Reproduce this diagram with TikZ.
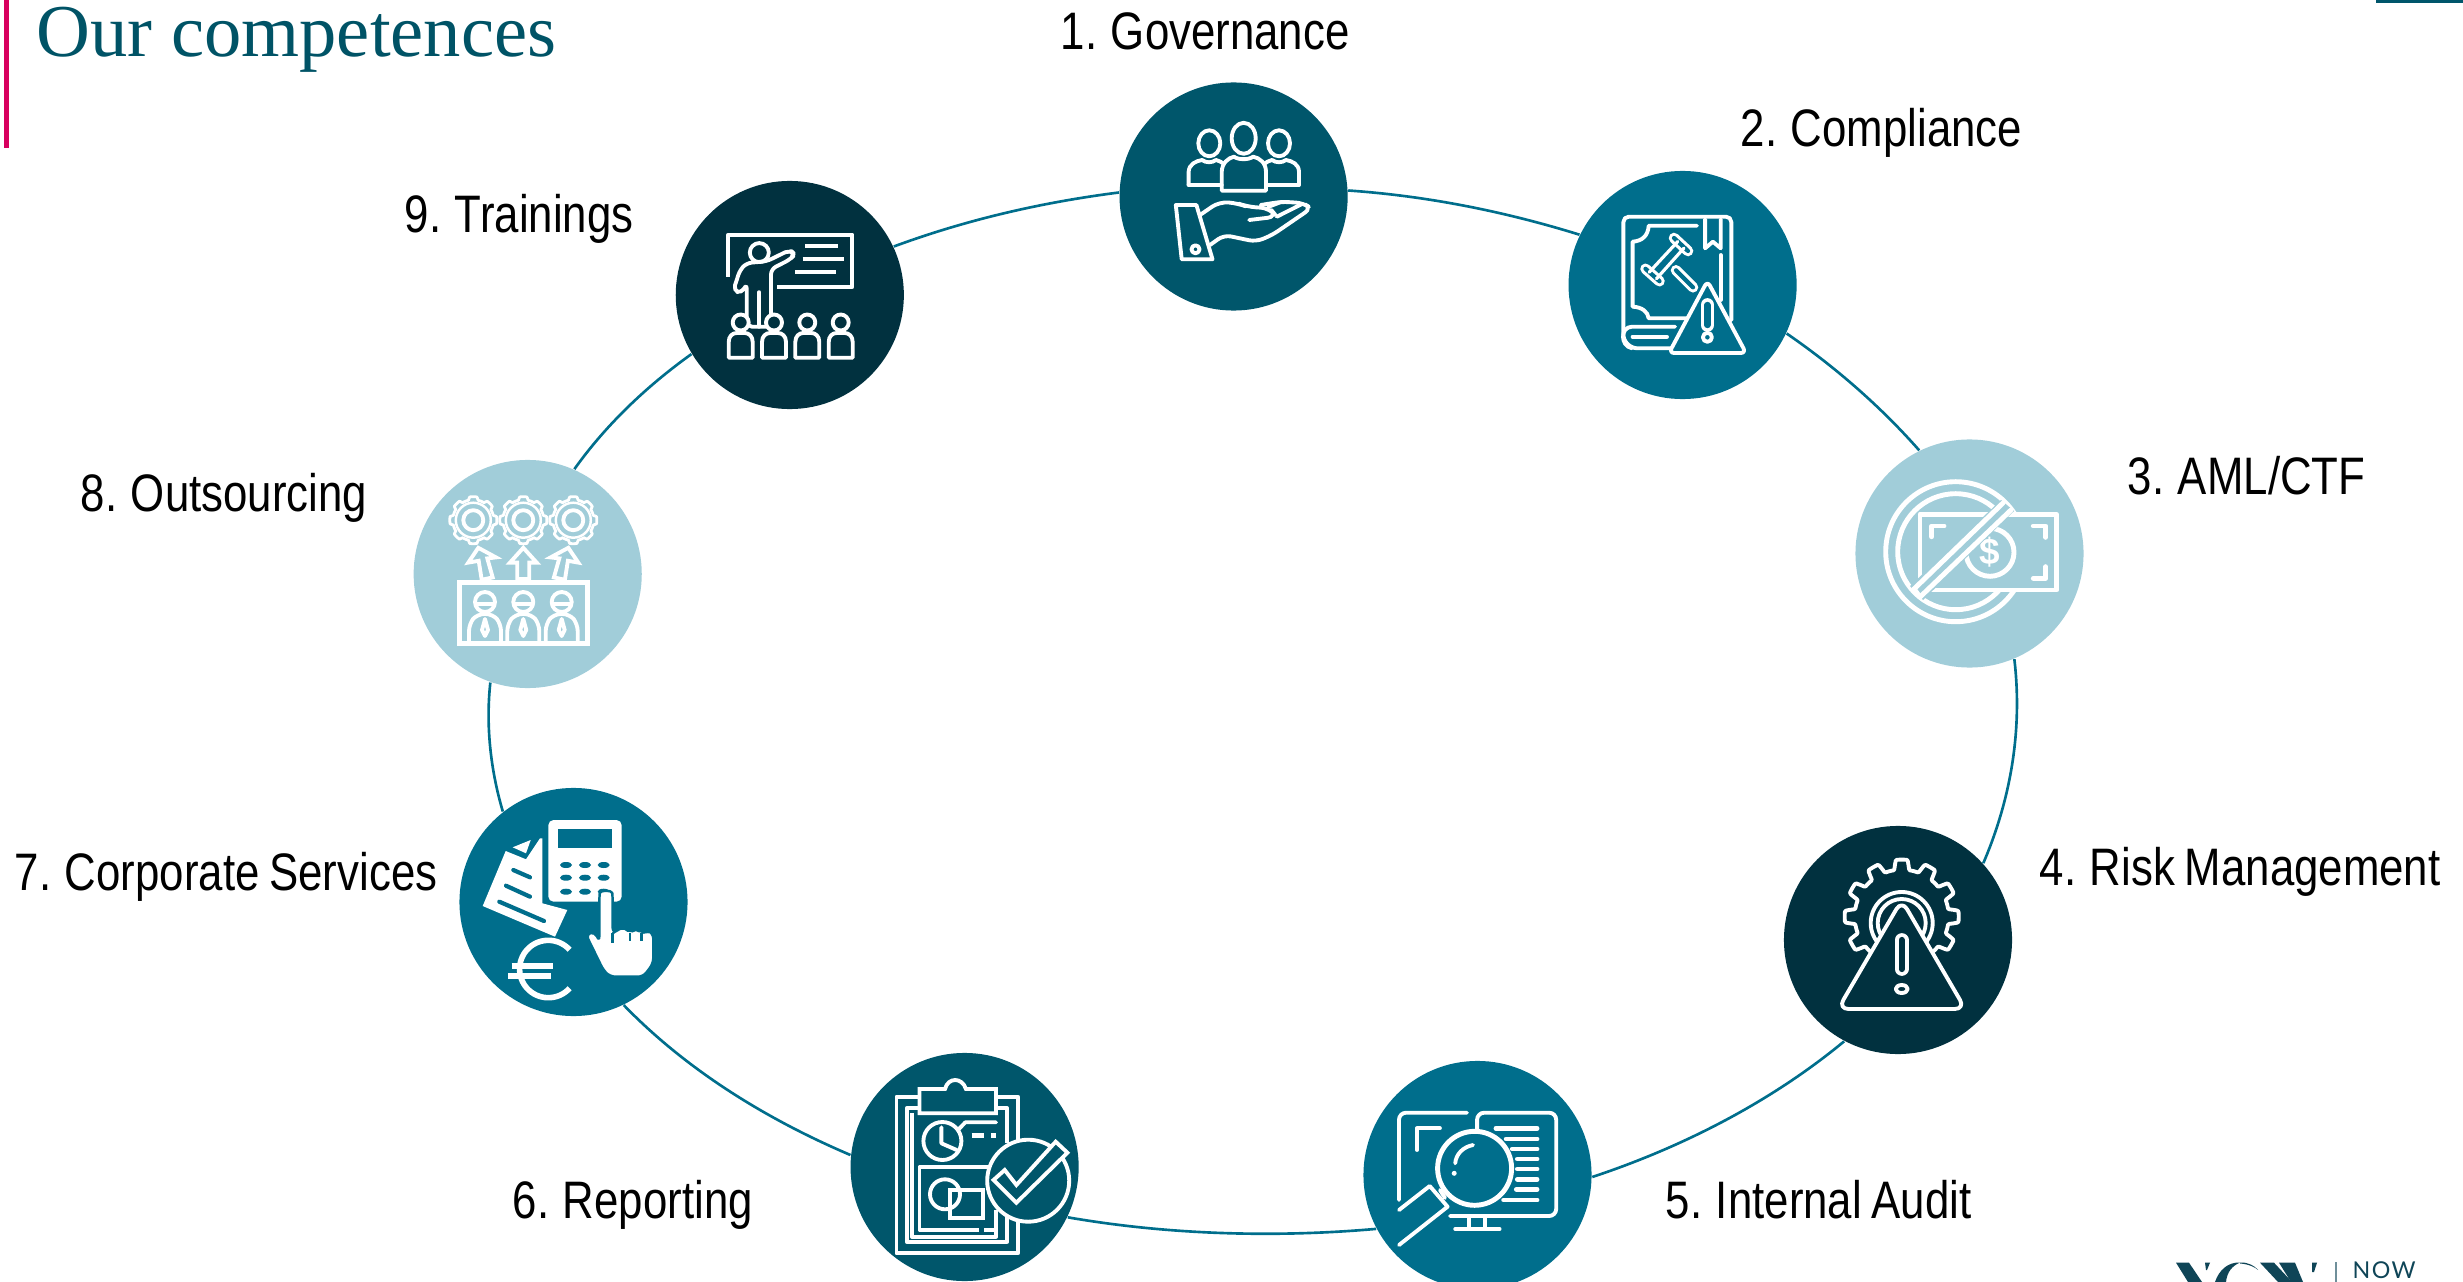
\documentclass[tikz,border=0pt]{standalone}
\usepackage{fontspec}
\setmainfont{Liberation Sans}
\newfontfamily\labfont[FakeStretch=0.83,WordSpace=0.8]{Liberation Sans}
\newfontfamily\titlefont{Liberation Serif}
\newfontfamily\logofont[LetterSpace=6]{Lato}
\definecolor{cA}{HTML}{00566B}
\definecolor{cB}{HTML}{006E8C}
\definecolor{cC}{HTML}{A1CDD9}
\definecolor{cD}{HTML}{01313F}
\definecolor{cTitle}{HTML}{005366}
\definecolor{cPink}{HTML}{D8005F}
\definecolor{cLogo}{HTML}{0F4557}
\newcommand{\gearicon}[6]{%
  \draw[icon,fill=#6] plot[domain=0:360,samples=289,variable=\t]
   ({#1+((#3+#4)/2+(#4-#3)/2*max(-1,min(1,3*cos(#5*\t))))*cos(\t)},
    {#2+((#3+#4)/2+(#4-#3)/2*max(-1,min(1,3*cos(#5*\t))))*sin(\t)}) -- cycle;}
\tikzset{
  disc/.style={circle,fill=#1,draw=none,inner sep=0pt,minimum size=2.28cm},
  ring/.style={draw=cB,line width=0.75pt},
  lab/.style={anchor=base west,inner sep=0pt,text=black,font=\labfont\fontsize{15pt}{18pt}\selectfont},
  icon/.style={draw=white,line width=1.1pt,line join=round,line cap=round},
  thick icon/.style={icon,line width=1.4pt},
  capsule/.style={draw=white,line width=1.05pt,double=#1,double distance=1.8pt,line cap=round},
  slimcapsule/.style={draw=white,line width=0.9pt,double=#1,double distance=1.2pt,line cap=round},
  wfill/.style={fill=white,draw=none}
}
\begin{document}
\begin{tikzpicture}[x=0.01cm,y=-0.01cm]
\useasboundingbox (0,0) rectangle (2463,1282);
% frame decorations
\fill[cPink] (4,0) rectangle (9,148);
\fill[cA] (2376,0) rectangle (2463,3);
\node[anchor=base west,inner sep=0pt,text=cTitle,font=\titlefont\fontsize{21.2pt}{24pt}\selectfont] (title) at (36,57) {Our competences};
% discs
\node[disc=cA] (n1) at (1233.6,196.5) {};
\node[disc=cB] (n2) at (1682.6,285) {};
\node[disc=cC] (n3) at (1969.5,553.5) {};
\node[disc=cD] (n4) at (1898,940) {};
\node[disc=cB] (n5) at (1477.5,1175) {};
\node[disc=cA] (n6) at (964.6,1167) {};
\node[disc=cB] (n7) at (573.5,902) {};
\node[disc=cC] (n8) at (527.7,574) {};
\node[disc=cD] (n9) at (789.8,295) {};
% ring
\draw[ring] (n1.3.75) .. controls (1428.4,196) and (1506.8,212.1) .. (n2.154.5);
\draw[ring] (n2.-25.4) .. controls (1838.4,369.1) and (1883.3,409.5) .. (n3.116.8);
\draw[ring] (n3.-67.6) .. controls (2022.3,726.8) and (2012.1,795.9) .. (n4.42.6);
\draw[ring] (n4.-118) .. controls (1776.1,1097.6) and (1689.9,1144.6) .. (n5.-1.5);
\draw[ring] (n5.-152.8) .. controls (1274.9,1237.8) and (1168.5,1234.8) .. (n6.-26.3);
\draw[ring] (n6.174) .. controls (760.2,1116.6) and (682.9,1066.2) .. (n7.-64.7);
\draw[ring] (n7.128.3) .. controls (490.4,769.5) and (485.7,725.1) .. (n8.-109.8);
\draw[ring] (n8.66.8) .. controls (604.4,426.9) and (644.5,387.7) .. (n9.-149.5);
\draw[ring] (n9.25.2) .. controls (964.5,220.4) and (1039.6,202.6) .. (n1.178.2);
% labels
\node[lab] (l1) at (1060,50) {1. Governance};
\node[lab] (l2) at (1740,147) {2. Compliance};
\node[lab] (l3) at (2127,494) {3. AML/CTF};
\node[lab] (l4) at (2039,885) {4. Risk Management};
\node[lab] (l5) at (1665,1218) {5. Internal Audit};
\node[lab] (l6) at (512,1218) {6. Reporting};
\node[lab] (l7) at (14,890) {7. Corporate Services};
\node[lab] (l8) at (80,511) {8. Outsourcing};
\node[lab] (l9) at (404,233) {9. Trainings};

% ---- icon 1: governance
\draw[icon] (1209.3,143.3) ellipse[x radius=11,y radius=13];
\draw[icon] (1279,143.3) ellipse[x radius=11,y radius=13];
\draw[icon] (1188.6,185) -- (1188.6,172) .. controls (1189,164) and (1196,161) .. (1202,160) .. controls (1206,163) and (1212,163) .. (1216,160) .. controls (1219,161) and (1222,162) .. (1224,164);
\draw[icon] (1299,185) -- (1299,172) .. controls (1299,164) and (1292,161) .. (1286,160) .. controls (1282,163) and (1276,163) .. (1272,160) .. controls (1269,161) and (1266,162) .. (1264,164);
\draw[icon] (1188.6,185) -- (1221.7,185) (1266,185) -- (1299,185);
\draw[icon] (1243.7,138.3) ellipse[x radius=12,y radius=15.5];
\draw[icon] (1221.7,190.7) -- (1221.7,172) .. controls (1222,163) and (1228,158) .. (1234,156.7) .. controls (1238,160) and (1249,160) .. (1253,156.7) .. controls (1260,158) and (1266,163) .. (1266,172) -- (1266,190.7) -- cycle;
\draw[icon] (1175.8,205) -- (1196.4,205) -- (1212.5,259.3) -- (1181.7,259.3) -- cycle;
\draw[icon] (1195.5,249.3) circle[radius=4];
\draw[icon,rounded corners=2.5pt] (1200,215) -- (1219.4,201.7) -- (1237.7,203.3) -- (1246.9,206.7) -- (1269.9,208.3) -- (1276.8,216.7) -- (1249.2,220);
\draw[icon,rounded corners=2pt] (1260.7,205) -- (1281.4,201.7) -- (1303,203) -- (1311.2,208.3) -- (1272.2,235) -- (1256,241.7) -- (1224,235) -- (1210,245);
\draw[icon] (1276.8,216.7) -- (1302,204) (1268,207) -- (1281,202);
% ---- icon 2: compliance
\draw[icon,rounded corners=1.5pt] (1675,348.3) -- (1632,348.3) -- (1623.4,340) -- (1623.4,216.7) -- (1731.3,216.7) -- (1731.3,320);
\draw[icon] (1696.9,225.7) -- (1648.7,225.7) .. controls (1648,236) and (1642,241) .. (1632.6,241.7) -- (1632.6,306.7) .. controls (1642,307) and (1648,312) .. (1648.7,318.3) -- (1687.7,318.3);
\draw[icon] (1720.7,255) -- (1720.7,300);
\draw[icon] (1705.1,219.3) -- (1705.1,248.3) -- (1712.9,241.7) -- (1720.7,248.3) -- (1720.7,219.3);
\draw[icon] (1675,326.7) -- (1632,326.7) .. controls (1620,327) and (1620,346) .. (1632,348.3);
\draw[icon] (1632.6,336.7) -- (1667,336.7);
\draw[slimcapsule=cB] (1674,238) -- (1688,251);
\draw[slimcapsule=cB] (1645.5,268.8) -- (1659.5,281.2);
\draw[icon,line width=0.9pt] (1683.9,248.1) -- (1656.4,278.8) (1677.7,241.5) -- (1649.2,272.2);
\draw[slimcapsule=cB] (1676,270.3) -- (1693,287.3);
\draw[icon,fill=cB,rounded corners=1.5pt] (1707.4,281) -- (1669,353) -- (1746,353) -- cycle;
\draw[capsule=cB] (1707.4,305) -- (1707.4,325);
\draw[icon] (1707.4,337.3) circle[radius=4.5];
% ---- icon 3: AML
\draw[thick icon] (1955.7,551.7) circle[radius=70];
\draw[thick icon] (1955.7,551.7) circle[radius=58];
\draw[thick icon,fill=cC] (1920,514.3) rectangle (2056.7,590);
\draw[thick icon,fill=cC] (1990,552.3) circle[radius=24];
\node[text=white,inner sep=0pt,font=\bfseries\fontsize{10.5pt}{12pt}\selectfont] (dollar) at (1990,552.3) {\$};
\draw[thick icon] (1931.7,536.7) -- (1931.7,526) -- (1944,526);
\draw[thick icon] (2033.3,526) -- (2045.7,526) -- (2045.7,537.3);
\draw[thick icon] (2033.3,578.3) -- (2045.7,578.3) -- (2045.7,566.7);
\fill[cC] (1910,586) -- (2001,500) -- (2014,511) -- (1923,600) -- cycle;
\draw[thick icon] (1914,589) -- (2003,503) (1920,597) -- (2011,510);
\draw[thick icon] (1914,589) -- (1920,597);
% ---- icon 4: risk
\gearicon{1901.7}{916.6}{47}{57}{12}{cD}
\draw[icon] (1901.7,923) circle[radius=31];
\draw[icon] (1901.7,923) circle[radius=24];
\draw[icon,fill=cD,rounded corners=3pt] (1901.7,900) -- (1838,1009) -- (1965.3,1009) -- cycle;
\draw[capsule=cD] (1901.7,940) -- (1901.7,969);
\draw[icon] (1901.7,989) ellipse[x radius=6,y radius=4];
% ---- icon 5: audit
\draw[icon,rounded corners=2pt] (1399,1200) -- (1399,1112.7) -- (1467,1112.7);
\draw[icon,rounded corners=2pt] (1477.1,1130) -- (1477.1,1112.7) -- (1556.2,1112.7) -- (1556.2,1216) -- (1450,1216);
\draw[icon] (1469,1216.7) -- (1469,1228.3) (1484.8,1216.7) -- (1484.8,1228.3) (1455.2,1229) -- (1499.6,1229);
\draw[icon] (1417,1150) -- (1417,1128.3) -- (1439.9,1128.3);
\draw[thick icon] (1496,1128.3) -- (1537,1128.3);
\draw[thick icon] (1506.2,1139) -- (1537,1139);
\draw[thick icon] (1512.3,1149) -- (1537,1149);
\draw[thick icon] (1517.4,1159) -- (1537,1159);
\draw[thick icon] (1517.4,1169) -- (1537,1169);
\draw[thick icon] (1517.4,1179.3) -- (1537,1179.3);
\draw[thick icon] (1516.4,1189.3) -- (1537,1189.3);
\draw[thick icon] (1503.7,1200) -- (1537,1200);
\draw[thick icon] (1474.6,1168.3) circle[radius=37];
\draw[icon] (1473,1145) .. controls (1463,1147) and (1456,1154) .. (1455.2,1163.3);
\fill[white] (1454.2,1173.3) circle[radius=2.5];
\draw[icon] (1399,1210) -- (1429.7,1186) -- (1447.6,1206.7) -- (1399,1245);
\draw[icon] (1440,1190) -- (1445,1198);
% ---- icon 6: reporting
\draw[icon,line cap=butt] (1018,1143) -- (1018,1096.7) -- (896.5,1096.7) -- (896.5,1253.3) -- (1018,1253.3) -- (1018,1220);
\draw[icon,line cap=butt] (1007.2,1143) -- (1007.2,1108.3) -- (906.7,1108.3) -- (906.7,1241.7) -- (1007.2,1241.7) -- (1007.2,1215);
\draw[icon,line cap=butt] (911.8,1113.3) -- (911.8,1236.7) -- (996,1236.7) -- (996,1210);
\draw[icon,fill=cA,line join=miter] (919.5,1113.3) -- (919.5,1089) -- (945,1089) .. controls (948,1077) and (962,1077) .. (966,1089) -- (996,1089) -- (996,1113.3) -- cycle;
\draw[icon] (942.4,1141) circle[radius=19];
\draw[icon] (941.4,1127.3) -- (941.4,1143.3) -- (956.7,1150);
\draw[icon] (957.8,1130) -- (965.4,1122.3) -- (996,1122.3);
\draw[thick icon,line cap=butt] (971.5,1135.7) -- (984.3,1135.7) (990.9,1135.7) -- (996,1135.7);
\draw[icon,line cap=butt] (988.4,1167.3) -- (919.5,1167.3) -- (919.5,1230) -- (979.2,1230);
\draw[icon,line cap=butt] (984,1230) -- (996,1230);
\draw[icon] (945,1194.3) circle[radius=15];
\draw[icon,line join=miter] (950,1190) rectangle (983.3,1218.3);
\draw[icon,fill=cA] (1028.2,1180.7) circle[radius=41];
\draw[icon,fill=cA,line join=miter] (993.5,1180) -- (1004.7,1170) -- (1016.4,1185) -- (1055.7,1141.7) -- (1067.4,1152.7) -- (1016.4,1202.7) -- cycle;
% ---- icon 7: corporate
\fill[white,rounded corners=1.5pt] (548.3,820) rectangle (621.7,901.7);
\fill[cB] (558.3,829) rectangle (612,847.7);
\foreach \bx in {566,585,603.7}{\foreach \by in {865,877.7,891.7}{\fill[cB] (\bx,\by) ellipse[x radius=6,y radius=3];}}
\fill[white] (482.7,906) -- (505.7,851) -- (526,859.3) -- (540,838.3) -- (542.3,838.3) -- (542.3,903.3) -- (567.3,910) -- (555,936.7) -- cycle;
\fill[white] (512.7,847.3) -- (530.7,840) -- (526,853.3) -- cycle;
\draw[draw=cB,line width=1.2pt,line cap=round] (513.3,870) -- (530,877.3) (506,885.7) -- (530,896.7) (499.3,901.7) -- (544,921);
\draw[cB,line width=0.7pt,fill=white,line join=round,rounded corners=1.5pt] (585.7,934) -- (595,931.7) -- (599.3,941.7) -- (599.3,898.3) .. controls (600,890) and (612,890) .. (612.7,898.3) -- (612.7,933.3) -- (617.3,930) -- (625,926.7) -- (630,933.3) -- (635.7,927.7) -- (641.7,933.3) -- (648.3,930.7) -- (653.3,933.3) -- (653.3,963.3) -- (643.3,976.7) -- (610,976.7) -- (603.3,970) -- cycle;
\draw[cB,line width=0.8pt] (612.7,933) -- (612.7,943) (630,933) -- (630,941) (641.7,933) -- (641.7,941);
\draw[icon,line cap=butt,line width=1.6pt] plot[domain=42:318,samples=50,variable=\t] ({548.3+28.7*cos(\t)},{969+28.7*sin(\t)});
\draw[icon,line cap=butt,line width=1.6pt] (511.7,966) -- (553.3,966) (508.3,976) -- (550.7,976);
% ---- icon 8: outsourcing
\begin{scope}[icon/.append style={line width=0.8pt}]
\foreach \gx in {473.3,523.3,573.3}{
  \gearicon{\gx}{520.2}{20.5}{23.5}{8}{cC}
  \draw[icon,line width=0.7pt] (\gx,520.2) circle[radius=17.5];
  \draw[icon,line width=1.1pt] (\gx,520.2) circle[radius=10];
}
\end{scope}
\draw[icon,line join=miter] (523.3,547.8) -- (536.7,562.6) -- (529.3,562.6) -- (529.3,579) -- (517.3,579) -- (517.3,562.6) -- (510,562.6) -- cycle;
\draw[icon,line join=miter] (478.3,547.8) -- (496,557.4) -- (487.3,558.4) -- (492.7,577.4) -- (481.7,579.8) -- (478.7,560.8) -- (468.3,562.6) -- cycle;
\draw[icon,line join=miter] (568.3,547.8) -- (550.6,557.4) -- (559.3,558.4) -- (553.9,577.4) -- (564.9,579.8) -- (567.9,560.8) -- (578.3,562.6) -- cycle;
\draw[thick icon,line join=miter] (459.3,582.5) rectangle (587.7,643.5);
\foreach \px in {485,523.3,561.7}{
  \draw[icon] (\px,602) circle[radius=10];
  \draw[icon] (\px-9,604) -- (\px+9,604);
  \draw[icon,rounded corners=2pt] (\px-16,643) -- (\px-16,624) -- (\px-8,614) -- (\px+8,614) -- (\px+16,624) -- (\px+16,643);
  \draw[icon] (\px,619) -- (\px-3,630) -- (\px,636) -- (\px+3,630) -- cycle;
}
% ---- icon 9: trainings
\draw[icon,line cap=butt] (728.3,276.7) -- (728.3,234.7) -- (852.3,234.7) -- (852.3,287.1) -- (776.7,287.1);
\draw[icon,line cap=butt] (805,246.4) -- (838.3,246.4) (802.7,258.8) -- (844.3,258.8) (795,271.6) -- (836,271.6);
\draw[icon] (759.3,252.6) circle[radius=9.5];
\draw[icon,rounded corners=1.5pt] (741.7,293.3) -- (733.3,290.5) -- (740,269.9) -- (746.7,263) -- (766.7,261.3) -- (790,249.9) -- (795,254.4) -- (790,259.5) -- (771,269.2) -- (771,326.7) -- (746.7,326.7) -- (746.7,283.6) -- cycle;
\draw[icon] (759.3,292.2) -- (759.3,326.7);
\foreach \sx in {740.7,774,807.3,840.7}{
  \draw[icon,fill=cD] (\sx,322.5) circle[radius=8];
  \draw[icon,line cap=butt,fill=cD] (\sx-12,357.7) -- (\sx-12,342) .. controls (\sx-12,336) and (\sx-8,333) .. (\sx-4,333) -- (\sx+4,333) .. controls (\sx+8,333) and (\sx+12,336) .. (\sx+12,342) -- (\sx+12,357.7) -- cycle;
}
% ---- logo
\fill[cLogo] (2176,1262.7) -- (2189,1262.7) -- (2202,1282) -- (2188,1282) -- cycle;
\fill[cLogo] (2205,1262.7) -- (2210,1262.7) -- (2207,1270) -- (2206,1270) -- cycle;
\fill[cLogo] (2215,1282) .. controls (2219,1270) and (2228,1262) .. (2240,1262.5) .. controls (2232,1266) and (2227,1272) .. (2226,1282) -- cycle;
\fill[cLogo] (2240,1262.5) .. controls (2248,1262) and (2255,1266) .. (2258,1270) .. controls (2255,1267) and (2248,1264) .. (2240,1263.5) -- cycle;
\fill[cLogo] (2260,1262.7) -- (2274,1262.7) -- (2292,1282) -- (2278,1282) -- cycle;
\fill[cLogo] (2279,1262.7) -- (2295,1262.7) -- (2303,1282) -- (2291,1282) -- cycle;
\fill[cLogo] (2312,1262.7) -- (2317,1262.7) -- (2314,1272) -- (2312,1272) -- cycle;
\draw[draw=cLogo!60,line width=0.3pt] (2336,1262) -- (2336,1282);
\node[anchor=base west,inner sep=0pt,text=cLogo,font=\logofont\fontsize{6.6pt}{7pt}\selectfont] (logo) at (2352,1278) {NOW};
\end{tikzpicture}
\end{document}
